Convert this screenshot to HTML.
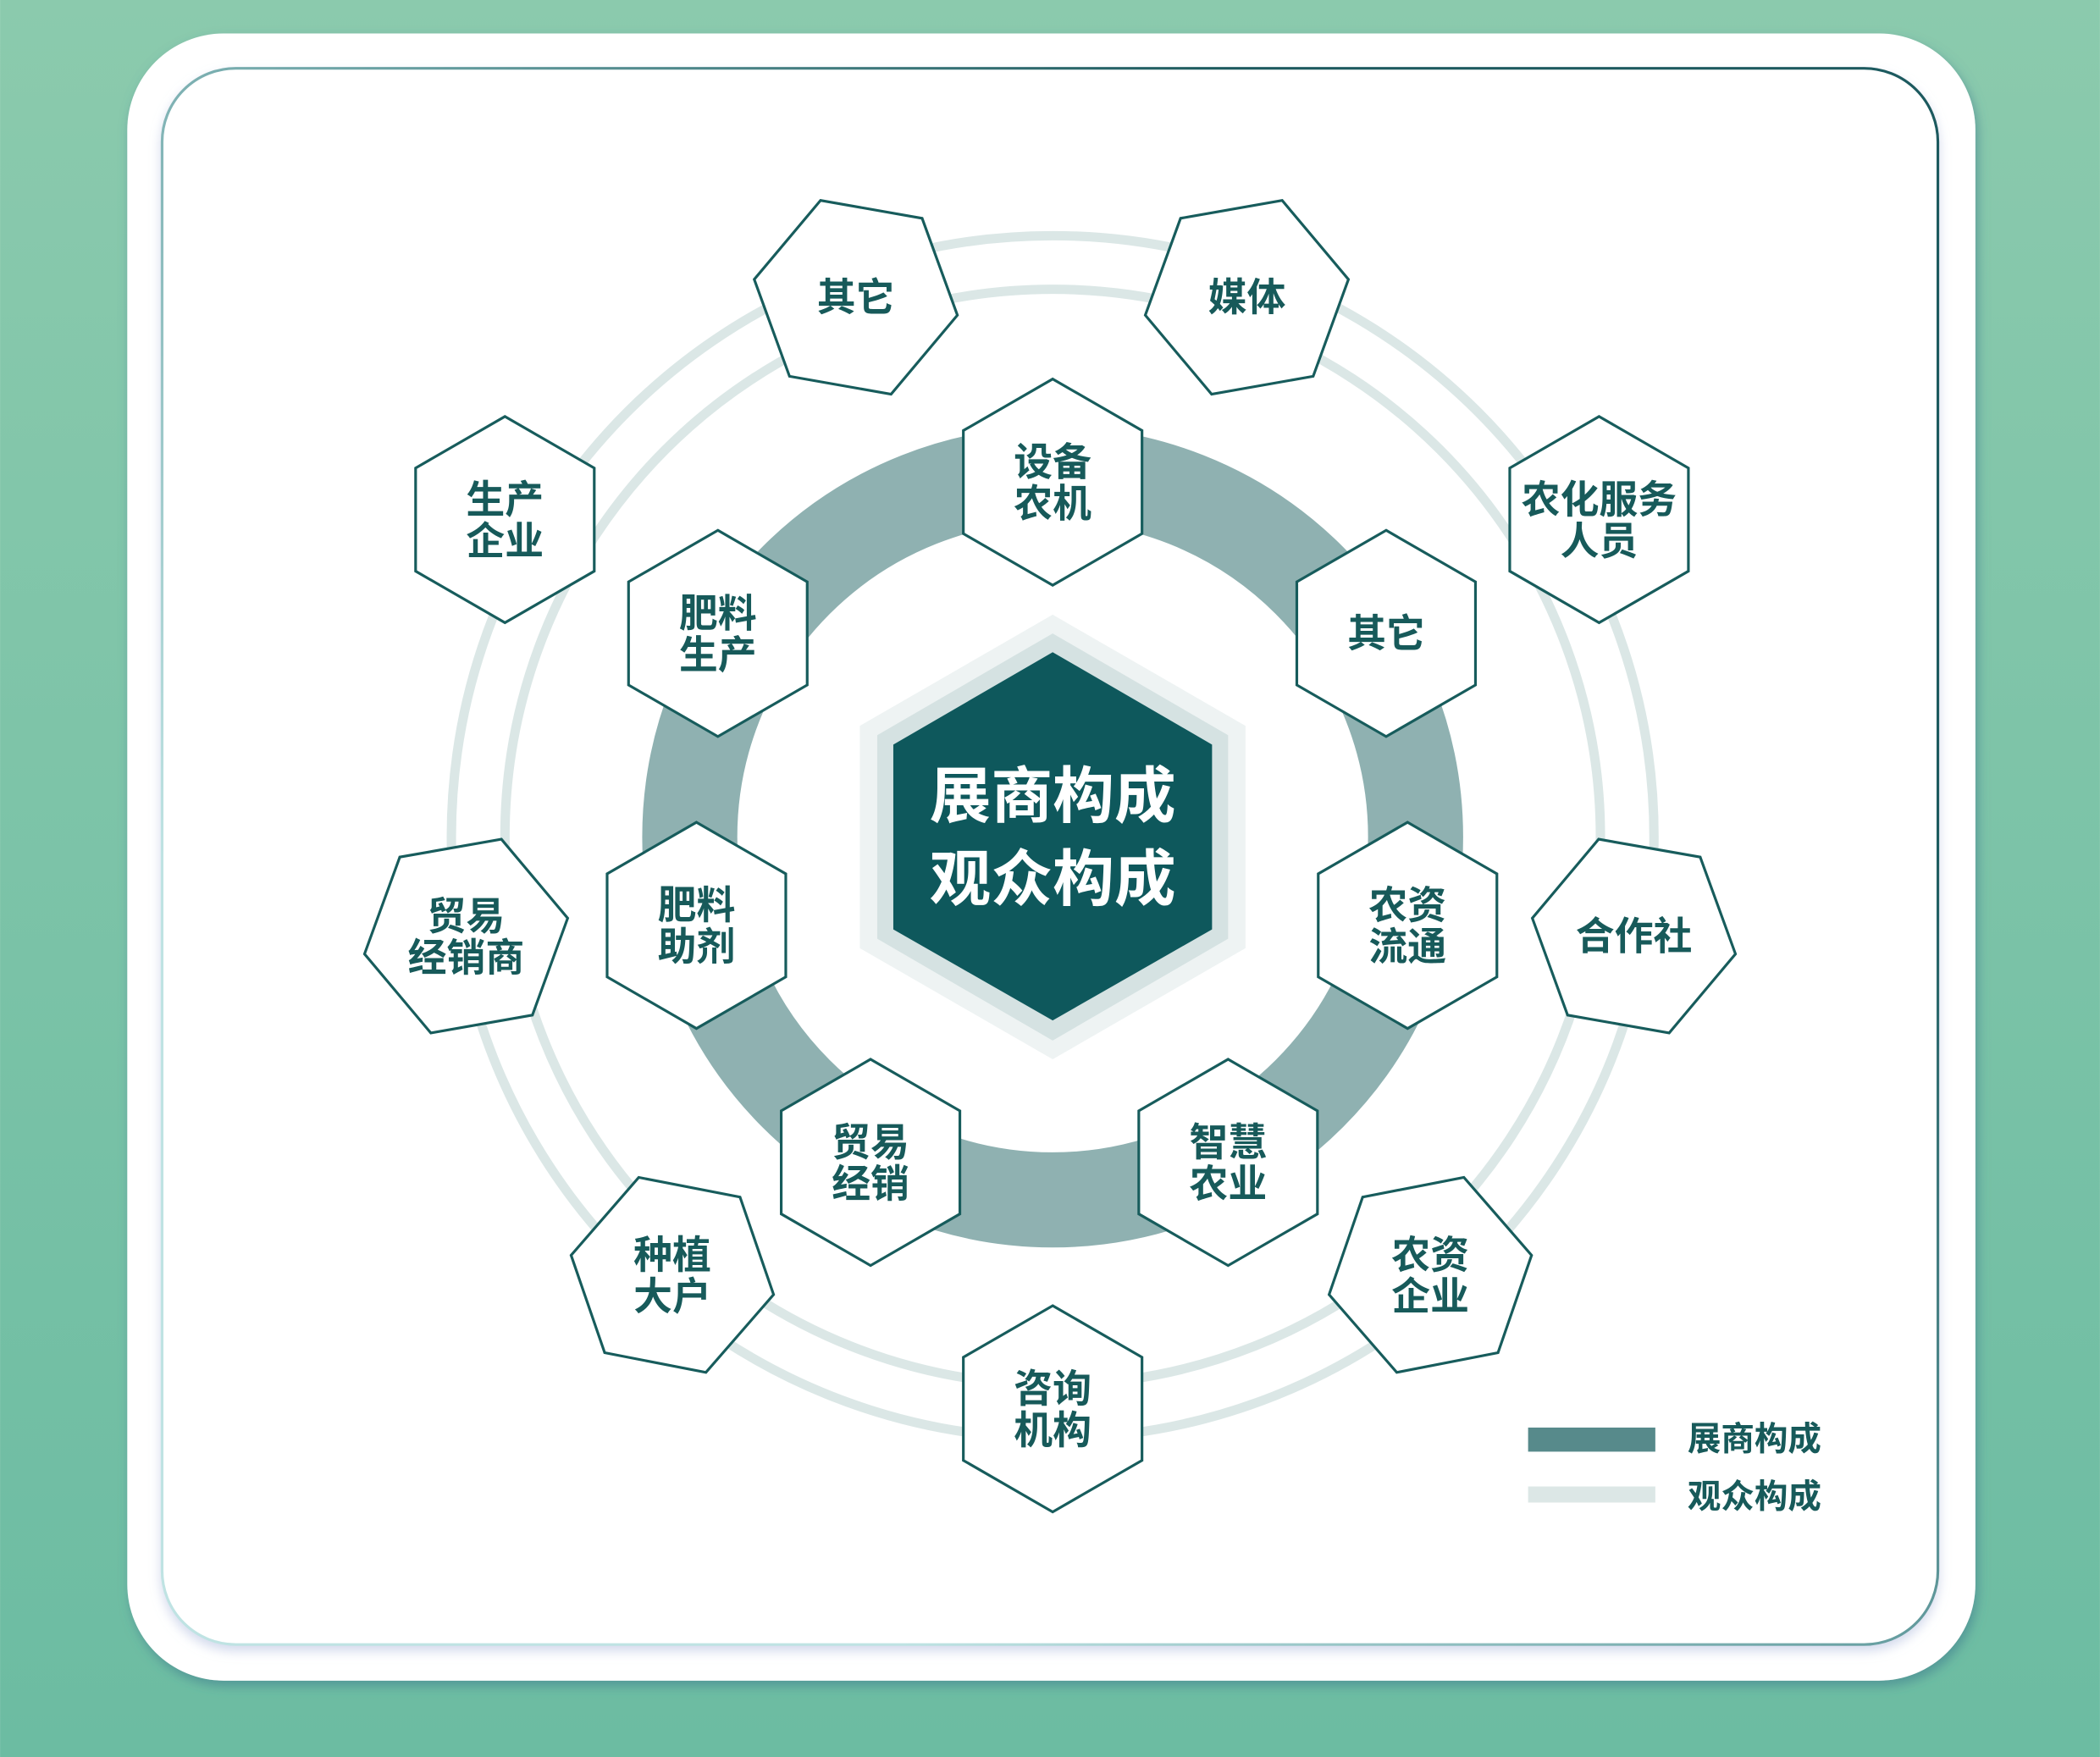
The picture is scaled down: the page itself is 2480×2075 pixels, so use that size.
<!DOCTYPE html>
<html><head><meta charset="utf-8"><style>
html,body{margin:0;padding:0;width:2480px;height:2075px;overflow:hidden}
svg{display:block}
text{font-family:"Liberation Sans","Noto Sans CJK SC",sans-serif;font-weight:bold;text-anchor:middle;dominant-baseline:central}
</style></head><body>
<svg width="2480" height="2075" viewBox="0 0 1568 1312" xmlns="http://www.w3.org/2000/svg">
<defs>
<linearGradient id="bg" x1="0" y1="0" x2="0" y2="1"><stop offset="0" stop-color="#8bcaad"/><stop offset="1" stop-color="#6cbca2"/></linearGradient>
<linearGradient id="bd" x1="0" y1="0.5" x2="0.6" y2="0"><stop offset="0" stop-color="#bfe3e3"/><stop offset="0.5" stop-color="#6fa6a8"/><stop offset="1" stop-color="#1c5a5e"/></linearGradient>
<filter id="sh" x="-5%" y="-5%" width="110%" height="110%"><feDropShadow dx="2" dy="4" stdDeviation="4" flood-color="#3f7f8f" flood-opacity="0.6"/></filter>
<filter id="sh2" x="-5%" y="-5%" width="110%" height="110%"><feDropShadow dx="0" dy="4" stdDeviation="4" flood-color="#c8d0e8" flood-opacity="0.8"/></filter>
<polygon id="h" points="0,-77 66.7,-38.5 66.7,38.5 0,77 -66.7,38.5 -66.7,-38.5" fill="#fff" stroke="#175c5c" stroke-width="2"/>
</defs>
<rect width="1568" height="1312" fill="url(#bg)"/>
<rect x="95" y="25" width="1380" height="1230" rx="72" fill="#fff" filter="url(#sh)"/>
<rect x="121" y="51" width="1326" height="1177" rx="55" fill="#fff" stroke="url(#bd)" stroke-width="2" filter="url(#sh2)"/>
<circle cx="786" cy="625" r="449" fill="none" stroke="#dbe7e6" stroke-width="7"/>
<circle cx="786" cy="625" r="409" fill="none" stroke="#dbe7e6" stroke-width="7"/>
<circle cx="786" cy="625" r="271" fill="none" stroke="#8fb1b1" stroke-width="71"/>
<polygon points="786,459 930,542 930,708 786,791 642,708 642,542" fill="#eef3f3"/>
<polygon points="786,473 917,549 917,701 786,777 655,701 655,549" fill="#d5e2e2"/>
<polygon points="786,487 905,556 905,694 786,762 667,694 667,556" fill="#0e585c"/>
<text x="786" y="595" font-size="46" fill="#fff">展商构成</text>
<text x="786" y="657" font-size="46" fill="#fff">观众构成</text>
<g fill="#175a5a" font-size="29">
<use href="#h" x="786" y="360"/><text x="786" y="345">设备</text><text x="786" y="376">农机</text>
<use href="#h" x="1035" y="473"/><text x="1035" y="473">其它</text>
<use href="#h" x="1051" y="691"/><text x="1051" y="676">农资</text><text x="1051" y="707">流通</text>
<use href="#h" x="917" y="868"/><text x="917" y="853">智慧</text><text x="917" y="884">农业</text>
<use href="#h" x="650" y="868"/><text x="650" y="853">贸易</text><text x="650" y="884">经销</text>
<use href="#h" x="520" y="691"/><text x="520" y="676">肥料</text><text x="520" y="707">助剂</text>
<use href="#h" x="536" y="473"/><text x="536" y="458">肥料</text><text x="536" y="489">生产</text>
<use href="#h" transform="translate(639,222) rotate(-20)"/><text x="639" y="222">其它</text>
<use href="#h" transform="translate(931,222) rotate(20)"/><text x="931" y="222">媒体</text>
<use href="#h" transform="translate(1194,388)"/><text x="1194" y="373">农化服务</text><text x="1194" y="404">人员</text>
<use href="#h" transform="translate(1220,699) rotate(-20)"/><text x="1220" y="699">合作社</text>
<use href="#h" transform="translate(1068,952) rotate(19)"/><text x="1068" y="937">农资</text><text x="1068" y="968">企业</text>
<use href="#h" transform="translate(786,1052)"/><text x="786" y="1037">咨询</text><text x="786" y="1068">机构</text>
<use href="#h" transform="translate(502,952) rotate(-19)"/><text x="502" y="937">种植</text><text x="502" y="968">大户</text>
<use href="#h" transform="translate(348,699) rotate(20)"/><text x="348" y="684">贸易</text><text x="348" y="715">经销商</text>
<use href="#h" transform="translate(377,388)"/><text x="377" y="373">生产</text><text x="377" y="404">企业</text>
</g>
<rect x="1141" y="1066" width="95" height="18" fill="#578a8b"/>
<rect x="1141" y="1110" width="95" height="12" fill="#dce7e6"/>
<g fill="#175a5a" font-size="25">
<text x="1310" y="1075">展商构成</text>
<text x="1310" y="1118">观众构成</text>
</g>
</svg>
</body></html>
